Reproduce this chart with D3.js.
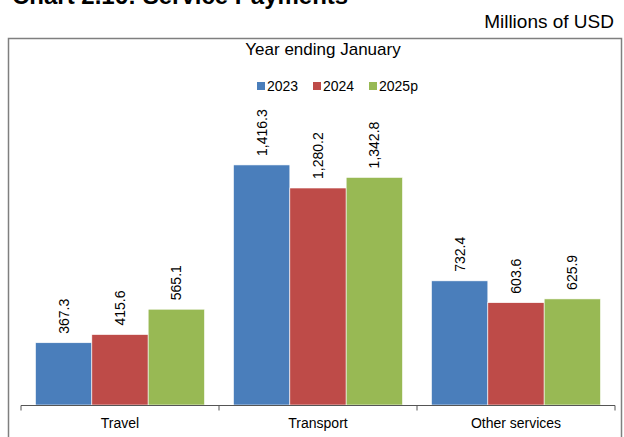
<!DOCTYPE html>
<html><head><meta charset="utf-8">
<script src="https://cdn.jsdelivr.net/npm/d3@7"></script>
<style>body{margin:0;background:#fff;}svg{display:block;font-family:"Liberation Sans",Arial,sans-serif;}</style>
</head><body><svg id="c" width="624" height="437"></svg>
<script>
const categories = ["Travel", "Transport", "Other services"];
const seriesNames = ["2023", "2024", "2025p"];
const values2023 = [367.3, 1416.3, 732.4];
const values2024 = [415.6, 1280.2, 603.6];
const values2025p = [565.1, 1342.8, 625.9];
const colors = ["#4a7ebb", "#be4b48", "#98b954"];
const seriesValues = [values2023, values2024, values2025p];

const svg = d3.select("#c");
const fmt = d3.format(",.1f");

// title (cut off at top, as in the reference)
svg.append("text").attr("x", 12).attr("y", 4).attr("font-size", 24).attr("font-weight", "bold")
  .attr("fill", "#000").text("Chart 2.16: Service Payments");
svg.append("text").attr("x", 614).attr("y", 28).attr("text-anchor", "end").attr("font-size", 19)
  .text("Millions of USD");

// frame
svg.append("rect").attr("x", 8.5).attr("y", 38.5).attr("width", 613).attr("height", 420)
  .attr("fill", "none").attr("stroke", "#7f7f7f").attr("stroke-width", 1.5);

svg.append("text").attr("x", 323).attr("y", 55).attr("text-anchor", "middle").attr("font-size", 17)
  .text("Year ending January");

// legend
const legX = [257, 313, 369];
seriesNames.forEach((s, i) => {
  const g = svg.append("g").attr("transform", `translate(${legX[i]},82)`);
  g.append("rect").attr("width", 8).attr("height", 8).attr("fill", colors[i]);
  g.append("text").attr("x", 10).attr("y", 9).attr("font-size", 14).text(s);
});

const x0 = d3.scaleBand().domain(categories).range([21, 615]).paddingInner(0).paddingOuter(0);
const x1 = d3.scaleBand().domain(seriesNames).range([14.5, x0.bandwidth() - 14.5]);
const y = d3.scaleLinear().domain([0, 2000]).range([405, 66]);

const groups = svg.append("g").selectAll("g").data(categories).join("g")
  .attr("transform", d => `translate(${x0(d)},0)`);

seriesNames.forEach((s, si) => {
  groups.append("rect")
    .attr("x", (d) => x1(s))
    .attr("y", (d, ci) => y(seriesValues[si][ci]))
    .attr("width", x1.bandwidth())
    .attr("height", (d, ci) => y(0) - y(seriesValues[si][ci]))
    .attr("fill", colors[si])
    .attr("stroke", "#fff").attr("stroke-width", 0.6);
  groups.append("text")
    .attr("transform", (d, ci) => `translate(${x1(s) + x1.bandwidth() / 2 + 5},${y(seriesValues[si][ci]) - 9}) rotate(-90)`)
    .attr("font-size", 14)
    .text((d, ci) => fmt(seriesValues[si][ci]));
});

// x axis
const axis = d3.axisBottom(x0).tickSize(0).tickPadding(0);
const ax = svg.append("g").attr("transform", "translate(0,405.5)");
ax.append("line").attr("x1", 21).attr("x2", 615).attr("stroke", "#555").attr("stroke-width", 1);
[21, 219, 417, 615].forEach(v => {
  ax.append("line").attr("x1", v).attr("x2", v).attr("y1", 0).attr("y2", 5).attr("stroke", "#555");
});
const axg = svg.append("g").attr("transform", "translate(0,405.5)").call(axis);
axg.select(".domain").remove();
axg.selectAll("text").attr("font-size", 14).attr("font-family", "Liberation Sans, Arial, sans-serif")
  .attr("fill", "#000").attr("dy", "0").attr("y", 22);
</script></body></html>
